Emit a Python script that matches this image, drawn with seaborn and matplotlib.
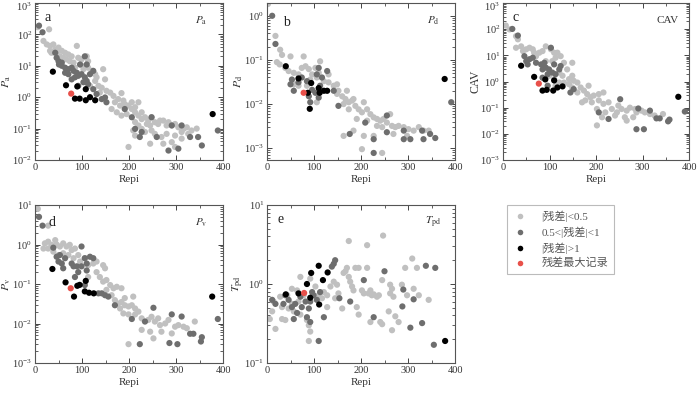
import numpy as np
import pandas as pd
import matplotlib
matplotlib.use("Agg")
import matplotlib.pyplot as plt
import seaborn as sns
from matplotlib.lines import Line2D
from matplotlib.ticker import LogLocator, MultipleLocator, NullFormatter
from matplotlib.transforms import ScaledTranslation

sns.set_theme(style="ticks")
plt.rcParams["font.family"] = ["Liberation Serif", "Noto Sans CJK SC"]
plt.rcParams["mathtext.fontset"] = "stix"
plt.rcParams["axes.unicode_minus"] = False

# ---------------- data (Repi km, value) ----------------
categories = ["|残差|<0.5", "0.5<|残差|<1", "|残差|>1", "残差最大记录"]
colors = ["#c0c0c0", "#6e6e6e", "#000000", "#e8504a"]

a_light = [(6,170),(30,145),(18,62),(25,48),(32,43),(39,48),(43,33),(50,38),(57,30),(64,26),(71,23),(78,20),(89,43),(92,18),(99,16),(110,20),(113,14),(32,30),(35,26),(46,26),(53,20),(60,18),(67,16),(74,14),(82,12.6),(85,8.7),(96,11),(103,7.8),(106,9.8),(113,8.7),(121,6.9),(128,5.4),(131,4.3),(145,7.8),(149,3.7),(135,2.3),(142,2.0),(152,1.6),(160,1.4),(167,1.1),(184,1.35),(170,0.69),(181,0.54),(191,0.60),(206,0.69),(220,0.69),(163,0.42),(174,0.33),(184,0.26),(195,0.29),(206,0.42),(213,0.33),(220,0.26),(227,0.20),(234,0.23),(241,0.18),(248,0.23),(255,0.16),(262,0.14),(273,0.18),(284,0.16),(291,0.126),(298,0.14),(305,0.11),(316,0.098),(323,0.11),(333,0.087),(344,0.10),(213,0.16),(220,0.126),(227,0.098),(234,0.078),(209,0.087),(248,0.087),(255,0.068),(269,0.054),(280,0.068),(298,0.060),(312,0.048),(199,0.026),(245,0.033),(273,0.033),(298,0.026),(213,0.060),(291,0.037),(117,2.3),(138,1.4),(128,3.3),(177,0.87),(188,0.78),(199,0.54),(213,0.48),(227,0.33),(238,0.14),(245,0.126),(266,0.18),(280,0.126),(312,0.078),(326,0.068)]
a_dark = [(8.5,190),(16,117),(43,26),(46,18),(50,14),(51,11),(57,10),(64,8.7),(71,7.8),(78,8.7),(82,6.9),(89,6.0),(92,4.8),(85,4.3),(99,5.4),(106,4.3),(110,3.3),(113,2.6),(103,3.0),(96,11),(106,20),(110,11),(124,6.9),(117,5.4),(71,5.4),(78,3.7),(64,6.0),(57,12.6),(124,1.8),(131,1.26),(142,0.87),(149,0.98),(152,0.69),(191,0.42),(206,0.23),(248,0.23),(213,0.098),(227,0.078),(291,0.126),(312,0.126),(330,0.054),(347,0.054),(355,0.029),(305,0.023),(284,0.020),(259,0.054),(223,0.054),(389,0.087),(92,2.3)]
a_black = [(38,6.5),(66,2.4),(90,2.2),(108,1.8),(85,0.9),(95,0.9),(108,0.8),(117,1.0),(128,0.8),(378,0.29)]
a_red = [(77,1.3)]

b_light = [(2,1.85),(18,0.35),(28,0.17),(32,0.13),(21,0.089),(27,0.079),(50,0.12),(78,0.12),(39,0.066),(46,0.056),(57,0.051),(67,0.047),(74,0.066),(82,0.072),(89,0.062),(96,0.047),(103,0.066),(110,0.051),(113,0.093),(106,0.040),(121,0.033),(131,0.031),(142,0.026),(149,0.028),(152,0.020),(160,0.015),(167,0.013),(174,0.011),(163,0.010),(181,0.012),(188,0.0091),(195,0.0076),(202,0.0065),(184,0.013),(174,0.0076),(206,0.011),(213,0.0076),(220,0.0059),(227,0.005),(234,0.0046),(241,0.0042),(248,0.0046),(255,0.0038),(262,0.0059),(266,0.0032),(273,0.003),(280,0.0032),(291,0.003),(301,0.0027),(312,0.0025),(323,0.003),(333,0.0025),(344,0.0025),(298,0.0019),(269,0.0021),(234,0.0032),(245,0.003),(184,0.0025),(163,0.0019),(206,0.0019),(227,0.0019),(202,0.00095),(245,0.00078),(92,0.036),(131,0.047),(149,0.017),(170,0.020),(85,0.026),(67,0.026),(106,0.011),(57,0.028),(191,0.0046),(213,0.0042)]
b_dark = [(11,1.0),(18,0.23),(53,0.036),(50,0.028),(57,0.020),(67,0.031),(74,0.040),(85,0.033),(89,0.015),(92,0.011),(96,0.021),(103,0.018),(110,0.014),(113,0.026),(117,0.040),(106,0.047),(110,0.066),(128,0.056),(142,0.020),(152,0.0091),(209,0.0038),(255,0.0023),(227,0.0016),(291,0.0016),(305,0.0016),(333,0.0016),(347,0.0021),(358,0.0017),(227,0.00078),(392,0.011),(291,0.0025),(330,0.0025),(255,0.0055),(176,0.0021)]
b_black = [(40,0.072),(67,0.038),(94,0.030),(87,0.018),(110,0.023),(112,0.018),(121,0.020),(128,0.020),(91,0.0078),(378,0.037)]
b_red = [(78,0.018)]

c_light = [(6,138),(14,98),(28,54),(32,41),(28,19.5),(39,22),(43,14.5),(50,17),(57,19.5),(64,17),(67,12.6),(71,9.3),(78,12.6),(85,14.5),(92,22),(103,17),(110,12.6),(113,8.1),(117,12.6),(124,9.3),(106,6.0),(131,5.2),(149,5.2),(138,2.9),(121,2.2),(149,1.66),(142,1.23),(152,1.07),(160,0.91),(131,0.91),(142,0.79),(167,0.59),(184,0.69),(174,0.45),(181,0.33),(188,0.25),(195,0.29),(206,0.33),(216,0.38),(177,0.19),(191,0.16),(206,0.19),(216,0.14),(227,0.16),(234,0.089),(202,0.089),(213,0.043),(220,0.066),(202,0.021),(241,0.050),(245,0.066),(262,0.043),(266,0.077),(273,0.10),(284,0.089),(287,0.066),(298,0.077),(305,0.066),(316,0.057),(326,0.050),(344,0.057),(266,0.032),(280,0.043),(248,0.12),(255,0.089),(170,0.16),(160,0.38),(92,6.0),(89,3.4),(99,1.66),(110,1.23),(128,1.66),(121,0.91),(113,0.69),(149,0.59)]
c_dark = [(20,102),(32,57),(46,9.3),(50,6.0),(57,7.1),(53,4.5),(64,8.1),(71,5.2),(82,4.5),(85,2.9),(92,3.4),(99,2.9),(106,2.2),(113,1.9),(89,5.2),(96,1.9),(103,19.5),(110,4.5),(121,2.9),(124,3.9),(85,1.4),(96,0.69),(145,0.38),(152,0.51),(206,0.066),(252,0.21),(227,0.037),(291,0.093),(316,0.077),(330,0.039),(337,0.039),(355,0.030),(358,0.035),(287,0.015),(303,0.015),(391,0.071)]
c_black = [(39,4.0),(67,1.5),(91,1.2),(110,1.1),(85,0.45),(94,0.48),(108,0.45),(117,0.59),(128,0.65),(377,0.26)]
c_red = [(77,0.83)]

d_light = [(6,8.0),(28,3.0),(21,1.07),(28,1.18),(35,0.98),(43,1.29),(46,1.0),(53,0.89),(60,1.07),(67,0.89),(74,0.98),(78,0.72),(85,0.79),(18,0.79),(28,0.79),(39,0.66),(50,0.54),(60,0.60),(71,0.54),(82,0.45),(92,0.54),(96,0.37),(106,0.45),(113,0.30),(124,0.33),(131,0.37),(145,0.30),(149,0.25),(131,0.20),(113,0.15),(138,0.15),(152,0.126),(160,0.094),(167,0.078),(174,0.085),(184,0.078),(152,0.071),(163,0.052),(170,0.039),(177,0.032),(184,0.035),(191,0.029),(199,0.027),(206,0.029),(213,0.024),(220,0.020),(209,0.048),(191,0.044),(181,0.024),(188,0.018),(199,0.017),(213,0.017),(227,0.0135),(241,0.0123),(248,0.0148),(255,0.0112),(262,0.0135),(266,0.0091),(277,0.010),(284,0.0123),(298,0.0083),(305,0.0091),(316,0.0083),(323,0.0076),(340,0.0112),(227,0.0069),(245,0.0062),(269,0.0062),(291,0.0056),(199,0.003),(252,0.0042),(145,0.115)]
d_dark = [(8.5,5.0),(16,3.0),(39,0.83),(46,0.49),(53,0.54),(50,0.37),(57,0.33),(64,0.45),(60,0.25),(78,0.33),(82,0.28),(89,0.28),(92,0.20),(99,0.89),(106,0.45),(110,0.33),(117,0.49),(124,0.45),(99,0.28),(110,0.22),(85,0.15),(106,0.094),(135,0.058),(142,0.058),(149,0.052),(156,0.048),(170,0.029),(206,0.013),(234,0.0112),(252,0.025),(291,0.017),(312,0.015),(330,0.0055),(337,0.0055),(355,0.0045),(353,0.0035),(223,0.003),(286,0.0032),(303,0.003),(389,0.013)]
d_black = [(37,0.24),(65,0.11),(90,0.09),(95,0.095),(108,0.12),(83,0.048),(106,0.065),(115,0.06),(125,0.058),(377,0.048)]
d_red = [(76,0.078)]

e_light = [(6,0.36),(18,0.27),(32,0.36),(39,0.35),(32,0.51),(46,0.49),(28,0.69),(43,0.72),(53,0.87),(64,0.83),(71,1.23),(78,0.72),(85,0.35),(89,0.30),(92,1.17),(103,0.93),(110,0.72),(117,0.66),(121,0.79),(128,0.72),(135,0.93),(142,1.07),(149,0.98),(145,0.66),(152,0.76),(160,0.49),(163,1.38),(167,1.45),(170,1.6),(174,3.5),(174,1.23),(177,1.07),(181,0.93),(184,0.83),(188,1.6),(195,1.6),(202,0.83),(206,0.76),(213,1.6),(213,3.1),(216,0.76),(220,0.83),(223,0.72),(227,0.74),(234,0.69),(238,0.72),(241,0.33),(245,0.31),(247,4.1),(245,1.12),(195,0.41),(220,0.33),(262,0.98),(266,0.87),(262,0.76),(269,0.69),(266,0.26),(259,0.45),(273,0.39),(287,0.98),(298,0.72),(294,1.6),(309,2.1),(323,0.72),(312,0.87),(319,1.6),(344,0.63),(280,0.33),(191,0.51),(89,0.19),(71,0.41),(92,0.25),(53,0.56),(57,0.45),(11,0.45),(67,0.6),(14,0.6),(128,0.51)]
e_dark = [(11,0.63),(18,0.56),(35,0.56),(39,0.72),(46,0.63),(53,0.51),(60,0.56),(64,0.43),(57,0.36),(71,0.69),(74,0.51),(82,0.6),(89,0.49),(92,0.6),(99,0.72),(106,0.63),(113,0.79),(96,0.79),(85,0.38),(92,0.33),(121,0.38),(142,1.8),(145,2.0),(138,1.66),(177,0.6),(206,1.12),(227,0.38),(250,1.45),(290,0.85),(288,0.52),(305,0.28),(330,0.32),(338,1.7),(358,1.6),(355,0.17),(110,0.19),(154,0.66),(312,0.64)]
e_black = [(40,0.74),(67,0.76),(85,1.0),(92,0.67),(110,1.7),(94,1.38),(129,1.4),(119,1.12),(111,0.55),(379,0.19)]
e_red = [(79,0.77)]

panel_letters = ["a", "b", "c", "d", "e"]
panel_tags = [r"$\mathit{P}_{\mathrm{a}}$", r"$\mathit{P}_{\mathrm{d}}$", "CAV",
              r"$\mathit{P}_{\mathrm{v}}$", r"$\mathit{T}_{\mathrm{pd}}$"]
y_labels = panel_tags
y_limits = [(1e-2, 1e3), (5.4e-4, 1.95), (1e-3, 1e3), (1e-3, 1e1), (1e-1, 1e1)]
x_ticks = [0, 100, 200, 300, 400]

groups = [(a_light, a_dark, a_black, a_red), (b_light, b_dark, b_black, b_red),
          (c_light, c_dark, c_black, c_red), (d_light, d_dark, d_black, d_red),
          (e_light, e_dark, e_black, e_red)]


def frame(gs):
    rows = []
    for cat, pts in zip(categories, gs):
        for x, y in pts:
            rows.append((x, y, cat))
    return pd.DataFrame(rows, columns=["Repi", "val", "cat"])


W, H = 700, 393
fig = plt.figure(figsize=(W / 100, H / 100), dpi=100)
# axes boxes in pixels: left, top, right, bottom
boxes = [(35, 3, 223, 160), (267, 3, 455, 160), (503, 3, 689, 160),
         (35, 205, 223, 363), (267, 205, 455, 363)]
letter_pos = [(0.048, 0.95), (0.085, 0.92), (0.05, 0.95), (0.074, 0.93), (0.058, 0.95)]
text_col = "#333333"
palette = dict(zip(categories, colors))
axes = []

for i, (l, t, r, b) in enumerate(boxes):
    ax = fig.add_axes([l / W, 1 - b / H, (r - l) / W, (b - t) / H])
    axes.append(ax)
    df = frame(groups[i])
    sns.scatterplot(data=df, x="Repi", y="val", hue="cat", palette=palette,
                    hue_order=categories, s=20, linewidth=0, legend=False, ax=ax)
    ax.set_yscale("log")
    ax.set_ylim(*y_limits[i])
    ax.set_xlim(0, 400)
    ax.set_xticks(x_ticks)
    ax.xaxis.set_minor_locator(MultipleLocator(50))
    ax.yaxis.set_major_locator(LogLocator(base=10, numticks=20))
    ax.yaxis.set_minor_locator(LogLocator(base=10, subs=np.arange(2, 10), numticks=20))
    ax.yaxis.set_minor_formatter(NullFormatter())
    ax.tick_params(which="both", direction="in", top=True, right=True,
                   labelsize=7.5, colors="#444444", labelcolor=text_col, pad=2)
    ax.tick_params(which="major", length=3.5, width=0.7)
    ax.tick_params(which="minor", length=2, width=0.6)
    for sp in ax.spines.values():
        sp.set_color("#555555")
        sp.set_linewidth(0.8)
    ax.set_xlabel("Repi", fontsize=8, color=text_col, labelpad=2)
    ax.set_ylabel(y_labels[i], fontsize=8.5, color=text_col)
    ax.yaxis.set_label_coords(-0.115, 0.5)
    ax.text(*letter_pos[i], panel_letters[i], transform=ax.transAxes, fontsize=10,
            ha="left", va="top", color="#222222")
    ax.text(0.883, 0.89, panel_tags[i], transform=ax.transAxes, fontsize=8,
            ha="center", va="center", color=text_col)
    ax.grid(False)

handles = [Line2D([], [], marker="o", linestyle="none", markersize=4,
                  markerfacecolor=c, markeredgewidth=0) for c in colors]
leg = fig.legend(handles, categories, loc="upper left",
                 bbox_to_anchor=(507 / W, 1 - 205 / H), borderaxespad=0,
                 fontsize=8, frameon=True, fancybox=False, edgecolor="#aaaaaa",
                 handlelength=1.4, handletextpad=1.2, borderpad=0.5,
                 labelspacing=0.4)
leg.get_frame().set_linewidth(0.8)
for txt in leg.get_texts():
    txt.set_color("#555555")

# nudge the topmost decade labels of the upper row so they stay inside the figure
fig.canvas.draw()
shift = ScaledTranslation(0, -3 / 100, fig.dpi_scale_trans)
for ax in axes[:3]:
    top = ax.get_ylim()[1]
    for tick in ax.yaxis.get_major_ticks():
        if abs(np.log10(tick.get_loc()) - np.log10(top)) < 1e-6:
            tick.label1.set_transform(tick.label1.get_transform() + shift)

fig.savefig("out.png", dpi=100)
